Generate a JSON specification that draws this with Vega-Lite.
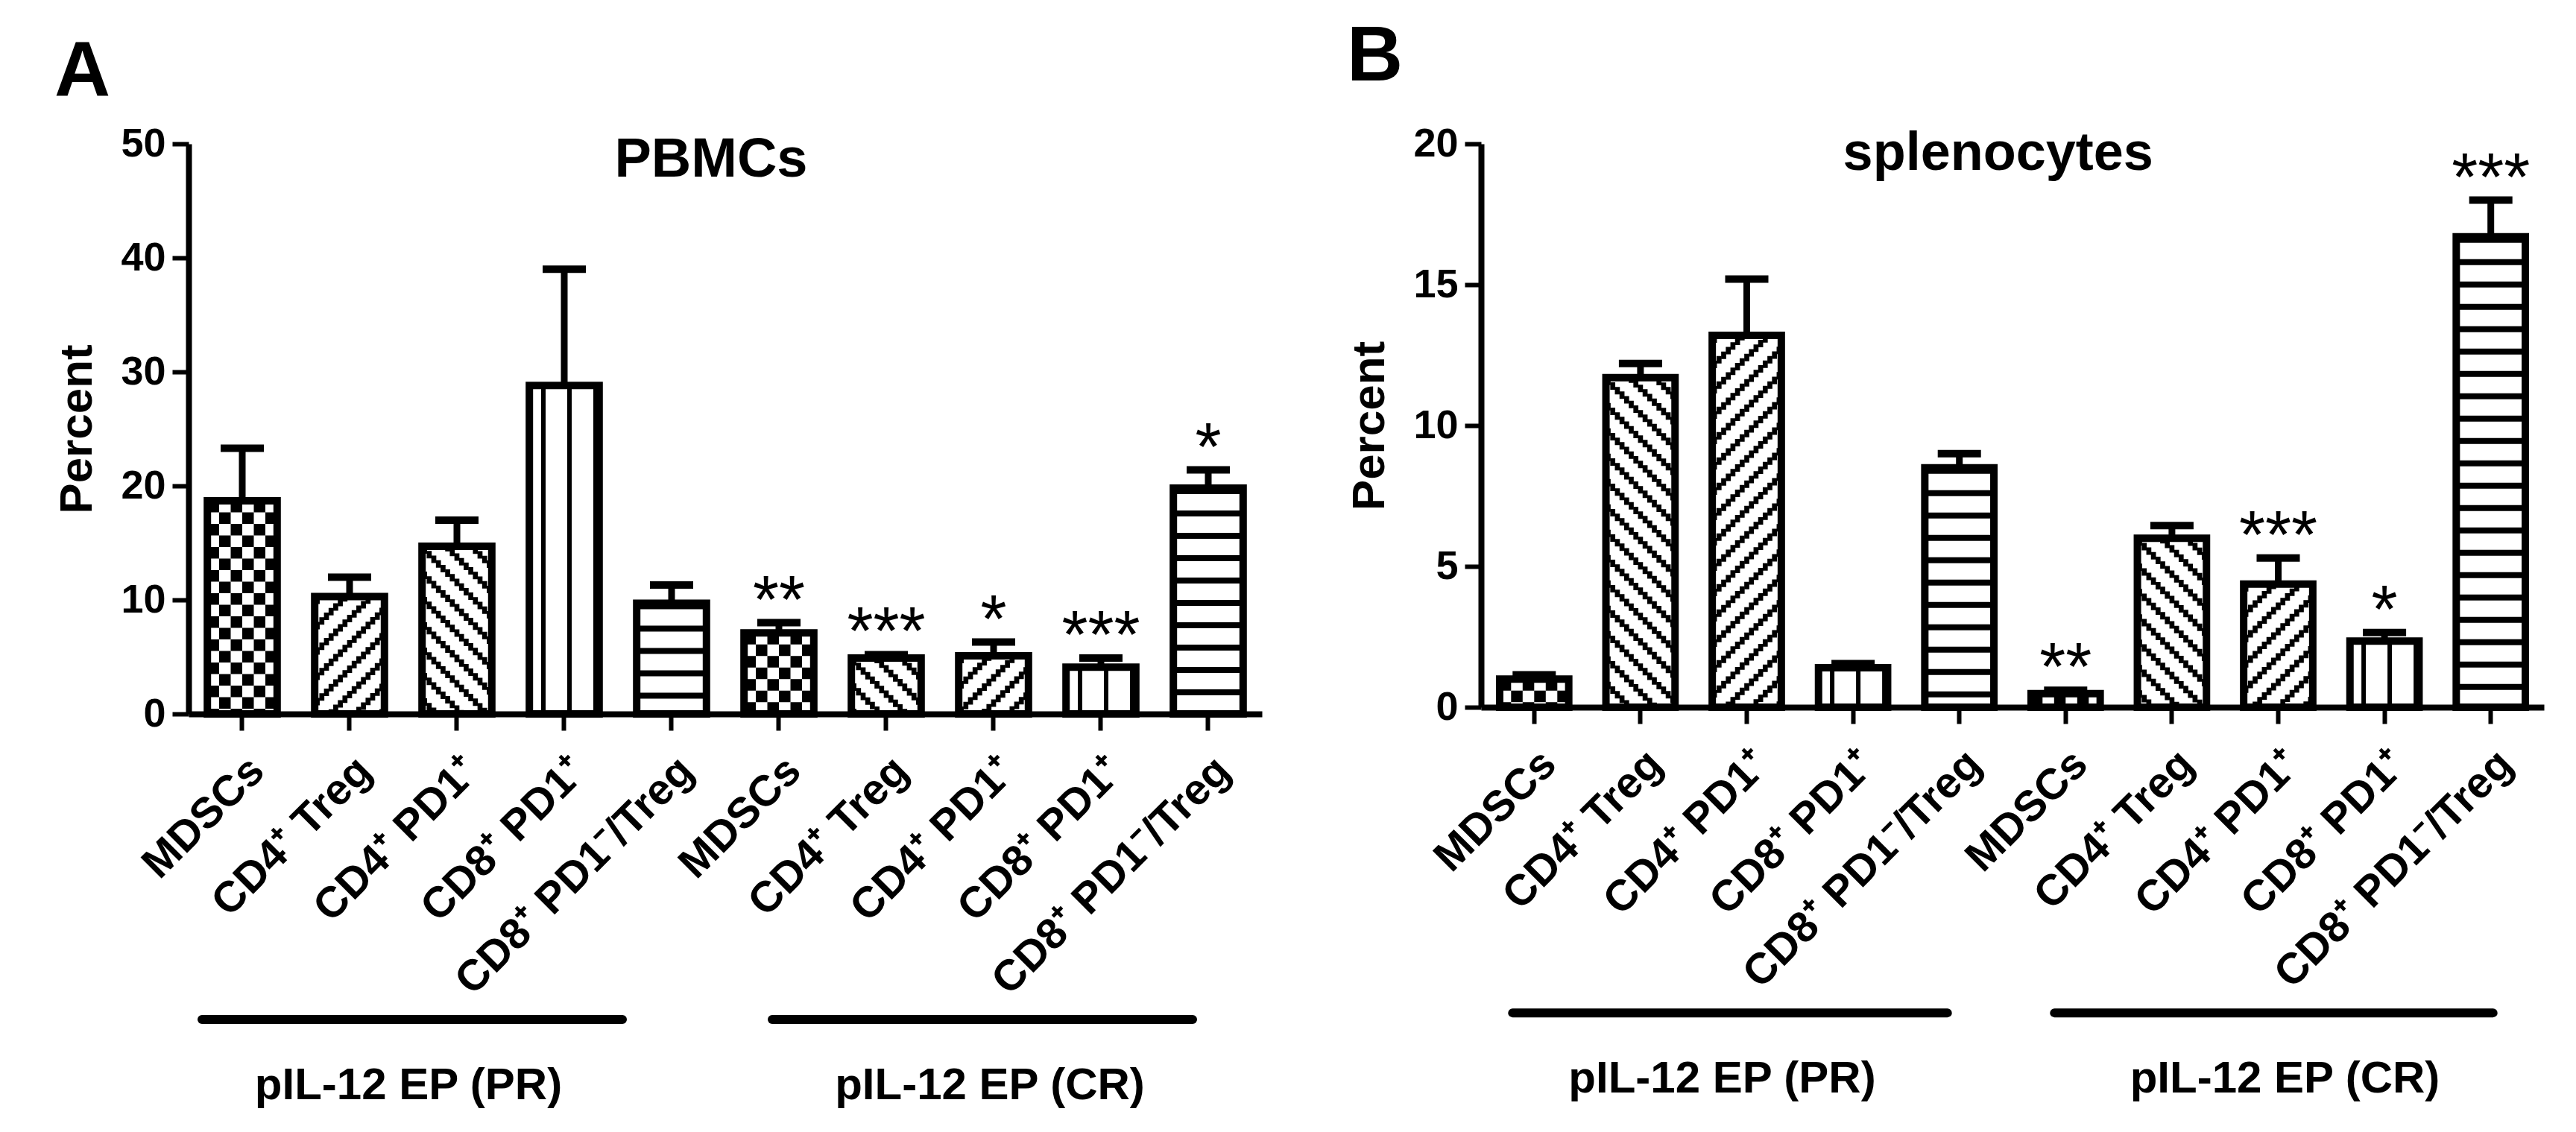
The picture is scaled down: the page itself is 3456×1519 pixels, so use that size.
{
  "$schema": "https://vega.github.io/schema/vega-lite/v6.json",
  "background": "white",
  "padding": {"left": 72, "top": 25, "right": 20, "bottom": 10},
  "datasets": {
    "pbmc": [
      {"bar": "PR|MDSCs", "percent": 18.7, "upper": 23.3, "sig": ""},
      {"bar": "PR|CD4⁺ Treg", "percent": 10.3, "upper": 12.0, "sig": ""},
      {"bar": "PR|CD4⁺ PD1⁺", "percent": 14.7, "upper": 17.0, "sig": ""},
      {"bar": "PR|CD8⁺ PD1⁺", "percent": 28.8, "upper": 39.0, "sig": ""},
      {"bar": "PR|CD8⁺ PD1⁻/Treg", "percent": 9.7, "upper": 11.3, "sig": ""},
      {"bar": "CR|MDSCs", "percent": 7.1, "upper": 8.0, "sig": "**"},
      {"bar": "CR|CD4⁺ Treg", "percent": 4.9, "upper": 5.2, "sig": "***"},
      {"bar": "CR|CD4⁺ PD1⁺", "percent": 5.1, "upper": 6.3, "sig": "*"},
      {"bar": "CR|CD8⁺ PD1⁺", "percent": 4.1, "upper": 4.9, "sig": "***"},
      {"bar": "CR|CD8⁺ PD1⁻/Treg", "percent": 19.8, "upper": 21.4, "sig": "*"}
    ],
    "spleno": [
      {"bar": "PR|MDSCs", "percent": 1.0, "upper": 1.15, "sig": ""},
      {"bar": "PR|CD4⁺ Treg", "percent": 11.7, "upper": 12.2, "sig": ""},
      {"bar": "PR|CD4⁺ PD1⁺", "percent": 13.2, "upper": 15.2, "sig": ""},
      {"bar": "PR|CD8⁺ PD1⁺", "percent": 1.4, "upper": 1.55, "sig": ""},
      {"bar": "PR|CD8⁺ PD1⁻/Treg", "percent": 8.5, "upper": 9.0, "sig": ""},
      {"bar": "CR|MDSCs", "percent": 0.48, "upper": 0.6, "sig": "**"},
      {"bar": "CR|CD4⁺ Treg", "percent": 6.0, "upper": 6.45, "sig": ""},
      {"bar": "CR|CD4⁺ PD1⁺", "percent": 4.37, "upper": 5.3, "sig": "***"},
      {"bar": "CR|CD8⁺ PD1⁺", "percent": 2.35, "upper": 2.65, "sig": "*"},
      {"bar": "CR|CD8⁺ PD1⁻/Treg", "percent": 16.7, "upper": 18.0, "sig": "***"}
    ],
    "groups": [
      {"group": "pIL-12 EP (PR)"},
      {"group": "pIL-12 EP (CR)"}
    ]
  },
  "spacing": 113,
  "hconcat": [
    {
      "title": {"text": "A", "offset": 16},
      "width": 1440,
      "height": 765,
      "data": {"name": "pbmc"},
      "encoding": {
        "x": {
          "field": "bar",
          "type": "nominal",
          "scale": {
            "domain": ["PR|MDSCs", "PR|CD4⁺ Treg", "PR|CD4⁺ PD1⁺", "PR|CD8⁺ PD1⁺", "PR|CD8⁺ PD1⁻/Treg", "CR|MDSCs", "CR|CD4⁺ Treg", "CR|CD4⁺ PD1⁺", "CR|CD8⁺ PD1⁺", "CR|CD8⁺ PD1⁻/Treg"],
            "paddingInner": 0.35,
            "paddingOuter": 0.175
          },
          "axis": {"title": null, "labelExpr": "split(datum.label, '|')[1]"}
        }
      },
      "layer": [
        {
          "mark": {"type": "bar", "fill": "white"},
          "encoding": {
            "y": {
              "field": "percent",
              "type": "quantitative",
              "title": "Percent",
              "scale": {"domain": [0, 50]},
              "axis": {"values": [0, 10, 20, 30, 40, 50]}
            }
          }
        },
        {
          "transform": [{"filter": "indexof(datum.bar, 'MDSCs') >= 0"}],
          "encoding": {"y": {"field": "percent", "type": "quantitative", "title": "Percent"}, "y2": {"datum": 0}},
          "layer": [
            {"mark": {"type": "rule", "style": "check", "xOffset": -38.75, "strokeDashOffset": 0}},
            {"mark": {"type": "rule", "style": "check", "xOffset": -23.25, "strokeDashOffset": 15.5}},
            {"mark": {"type": "rule", "style": "check", "xOffset": -7.75, "strokeDashOffset": 0}},
            {"mark": {"type": "rule", "style": "check", "xOffset": 7.75, "strokeDashOffset": 15.5}},
            {"mark": {"type": "rule", "style": "check", "xOffset": 23.25, "strokeDashOffset": 0}},
            {"mark": {"type": "rule", "style": "check", "xOffset": 38.75, "strokeDashOffset": 15.5}}
          ]
        },
        {
          "transform": [{"filter": "indexof(datum.bar, 'CD8⁺ PD1⁺') >= 0"}],
          "encoding": {"y": {"field": "percent", "type": "quantitative", "title": "Percent"}, "y2": {"datum": 0}},
          "layer": [
            {"mark": {"type": "rule", "style": "vline", "xOffset": -28}},
            {"mark": {"type": "rule", "style": "vline", "xOffset": 7}},
            {"mark": {"type": "rule", "style": "vline", "xOffset": 42}}
          ]
        },
        {
          "transform": [{"filter": "indexof(datum.bar, '/Treg') >= 0"}],
          "mark": {"type": "rule", "style": "hline"},
          "encoding": {"y": {"field": "percent", "type": "quantitative", "title": "Percent"}, "y2": {"datum": 0}}
        },
        {
          "transform": [{"filter": "datum.bar == 'PR|CD4⁺ Treg' || datum.bar == 'CR|CD4⁺ PD1⁺'"}],
          "encoding": {"y": {"field": "percent", "type": "quantitative", "title": "Percent"}, "y2": {"datum": 0}},
          "layer": [
            {"mark": {"type": "rule", "style": "diag", "xOffset": -43.4, "strokeDashOffset": 0}},
            {"mark": {"type": "rule", "style": "diag", "xOffset": -37.2, "strokeDashOffset": 6.2}},
            {"mark": {"type": "rule", "style": "diag", "xOffset": -31, "strokeDashOffset": 12.4}},
            {"mark": {"type": "rule", "style": "diag", "xOffset": -24.8, "strokeDashOffset": 18.6}},
            {"mark": {"type": "rule", "style": "diag", "xOffset": -18.6, "strokeDashOffset": 24.8}},
            {"mark": {"type": "rule", "style": "diag", "xOffset": -12.4, "strokeDashOffset": 31}},
            {"mark": {"type": "rule", "style": "diag", "xOffset": -6.2, "strokeDashOffset": 37.2}},
            {"mark": {"type": "rule", "style": "diag", "xOffset": 0, "strokeDashOffset": 43.4}},
            {"mark": {"type": "rule", "style": "diag", "xOffset": 6.2, "strokeDashOffset": 49.6}},
            {"mark": {"type": "rule", "style": "diag", "xOffset": 12.4, "strokeDashOffset": 55.8}},
            {"mark": {"type": "rule", "style": "diag", "xOffset": 18.6, "strokeDashOffset": 62}},
            {"mark": {"type": "rule", "style": "diag", "xOffset": 24.8, "strokeDashOffset": 68.2}},
            {"mark": {"type": "rule", "style": "diag", "xOffset": 31, "strokeDashOffset": 74.4}},
            {"mark": {"type": "rule", "style": "diag", "xOffset": 37.2, "strokeDashOffset": 80.6}},
            {"mark": {"type": "rule", "style": "diag", "xOffset": 43.4, "strokeDashOffset": 86.8}}
          ]
        },
        {
          "transform": [{"filter": "datum.bar == 'PR|CD4⁺ PD1⁺' || datum.bar == 'CR|CD4⁺ Treg'"}],
          "encoding": {"y": {"field": "percent", "type": "quantitative", "title": "Percent"}, "y2": {"datum": 0}},
          "layer": [
            {"mark": {"type": "rule", "style": "diag", "xOffset": -43.4, "strokeDashOffset": 0}},
            {"mark": {"type": "rule", "style": "diag", "xOffset": -37.2, "strokeDashOffset": -6.2}},
            {"mark": {"type": "rule", "style": "diag", "xOffset": -31, "strokeDashOffset": -12.4}},
            {"mark": {"type": "rule", "style": "diag", "xOffset": -24.8, "strokeDashOffset": -18.6}},
            {"mark": {"type": "rule", "style": "diag", "xOffset": -18.6, "strokeDashOffset": -24.8}},
            {"mark": {"type": "rule", "style": "diag", "xOffset": -12.4, "strokeDashOffset": -31}},
            {"mark": {"type": "rule", "style": "diag", "xOffset": -6.2, "strokeDashOffset": -37.2}},
            {"mark": {"type": "rule", "style": "diag", "xOffset": 0, "strokeDashOffset": -43.4}},
            {"mark": {"type": "rule", "style": "diag", "xOffset": 6.2, "strokeDashOffset": -49.6}},
            {"mark": {"type": "rule", "style": "diag", "xOffset": 12.4, "strokeDashOffset": -55.8}},
            {"mark": {"type": "rule", "style": "diag", "xOffset": 18.6, "strokeDashOffset": -62}},
            {"mark": {"type": "rule", "style": "diag", "xOffset": 24.8, "strokeDashOffset": -68.2}},
            {"mark": {"type": "rule", "style": "diag", "xOffset": 31, "strokeDashOffset": -74.4}},
            {"mark": {"type": "rule", "style": "diag", "xOffset": 37.2, "strokeDashOffset": -80.6}},
            {"mark": {"type": "rule", "style": "diag", "xOffset": 43.4, "strokeDashOffset": -86.8}}
          ]
        },
        {
          "mark": {"type": "bar", "filled": false, "color": "black", "strokeWidth": 10},
          "encoding": {"y": {"field": "percent", "type": "quantitative", "title": "Percent"}}
        },
        {
          "mark": {"type": "rule", "color": "black", "strokeWidth": 9},
          "encoding": {"y": {"field": "upper", "type": "quantitative", "title": "Percent"}, "y2": {"field": "percent"}}
        },
        {
          "mark": {"type": "tick", "orient": "horizontal", "color": "black", "thickness": 10, "size": 58, "opacity": 1},
          "encoding": {"y": {"field": "upper", "type": "quantitative", "title": "Percent"}}
        },
        {
          "mark": {"type": "text", "fontSize": 90, "baseline": "alphabetic"},
          "encoding": {"y": {"field": "upper", "type": "quantitative", "title": "Percent"}, "text": {"field": "sig"}}
        },
        {
          "data": {"values": [{"title": "PBMCs"}]},
          "mark": {"type": "text", "fontSize": 74, "fontWeight": "bold", "baseline": "alphabetic", "dx": 53},
          "encoding": {"x": {"datum": "PR|CD8⁺ PD1⁻/Treg"}, "y": {"datum": 47.1, "title": "Percent"}, "text": {"field": "title"}}
        },
        {
          "data": {"name": "groups"},
          "transform": [{"filter": "datum.group == 'pIL-12 EP (PR)'"}],
          "mark": {"type": "rule", "style": "group", "xOffset": -54, "x2Offset": -66},
          "encoding": {"x": {"datum": "PR|MDSCs"}, "x2": {"datum": "PR|CD8⁺ PD1⁻/Treg"}, "y": {"datum": -26.8, "title": "Percent"}}
        },
        {
          "data": {"name": "groups"},
          "transform": [{"filter": "datum.group == 'pIL-12 EP (CR)'"}],
          "mark": {"type": "rule", "style": "group", "xOffset": -9, "x2Offset": -21},
          "encoding": {"x": {"datum": "CR|MDSCs"}, "x2": {"datum": "CR|CD8⁺ PD1⁻/Treg"}, "y": {"datum": -26.8, "title": "Percent"}}
        },
        {
          "data": {"name": "groups"},
          "transform": [{"filter": "datum.group == 'pIL-12 EP (PR)'"}],
          "mark": {"type": "text", "style": "grouplabel", "dx": -65},
          "encoding": {"x": {"datum": "PR|CD4⁺ PD1⁺"}, "y": {"datum": -33.8, "title": "Percent"}, "text": {"field": "group"}}
        },
        {
          "data": {"name": "groups"},
          "transform": [{"filter": "datum.group == 'pIL-12 EP (CR)'"}],
          "mark": {"type": "text", "style": "grouplabel", "dx": -5},
          "encoding": {"x": {"datum": "CR|CD4⁺ PD1⁺"}, "y": {"datum": -33.8, "title": "Percent"}, "text": {"field": "group"}}
        }
      ]
    },
    {
      "title": {"text": "B", "offset": 36},
      "width": 1426,
      "height": 756,
      "data": {"name": "spleno"},
      "encoding": {
        "x": {
          "field": "bar",
          "type": "nominal",
          "scale": {
            "domain": ["PR|MDSCs", "PR|CD4⁺ Treg", "PR|CD4⁺ PD1⁺", "PR|CD8⁺ PD1⁺", "PR|CD8⁺ PD1⁻/Treg", "CR|MDSCs", "CR|CD4⁺ Treg", "CR|CD4⁺ PD1⁺", "CR|CD8⁺ PD1⁺", "CR|CD8⁺ PD1⁻/Treg"],
            "paddingInner": 0.35,
            "paddingOuter": 0.175
          },
          "axis": {"title": null, "labelExpr": "split(datum.label, '|')[1]"}
        }
      },
      "layer": [
        {
          "mark": {"type": "bar", "fill": "white"},
          "encoding": {
            "y": {
              "field": "percent",
              "type": "quantitative",
              "title": "Percent",
              "scale": {"domain": [0, 20]},
              "axis": {"values": [0, 5, 10, 15, 20]}
            }
          }
        },
        {
          "transform": [{"filter": "indexof(datum.bar, 'MDSCs') >= 0"}],
          "encoding": {"y": {"field": "percent", "type": "quantitative", "title": "Percent"}, "y2": {"datum": 0}},
          "layer": [
            {"mark": {"type": "rule", "style": "check", "xOffset": -38.75, "strokeDashOffset": 0}},
            {"mark": {"type": "rule", "style": "check", "xOffset": -23.25, "strokeDashOffset": 15.5}},
            {"mark": {"type": "rule", "style": "check", "xOffset": -7.75, "strokeDashOffset": 0}},
            {"mark": {"type": "rule", "style": "check", "xOffset": 7.75, "strokeDashOffset": 15.5}},
            {"mark": {"type": "rule", "style": "check", "xOffset": 23.25, "strokeDashOffset": 0}},
            {"mark": {"type": "rule", "style": "check", "xOffset": 38.75, "strokeDashOffset": 15.5}}
          ]
        },
        {
          "transform": [{"filter": "indexof(datum.bar, 'CD8⁺ PD1⁺') >= 0"}],
          "encoding": {"y": {"field": "percent", "type": "quantitative", "title": "Percent"}, "y2": {"datum": 0}},
          "layer": [
            {"mark": {"type": "rule", "style": "vline", "xOffset": -28}},
            {"mark": {"type": "rule", "style": "vline", "xOffset": 7}},
            {"mark": {"type": "rule", "style": "vline", "xOffset": 42}}
          ]
        },
        {
          "transform": [{"filter": "indexof(datum.bar, '/Treg') >= 0"}],
          "mark": {"type": "rule", "style": "hline"},
          "encoding": {"y": {"field": "percent", "type": "quantitative", "title": "Percent"}, "y2": {"datum": 0}}
        },
        {
          "transform": [{"filter": "indexof(datum.bar, 'CD4⁺ PD1⁺') >= 0"}],
          "encoding": {"y": {"field": "percent", "type": "quantitative", "title": "Percent"}, "y2": {"datum": 0}},
          "layer": [
            {"mark": {"type": "rule", "style": "diag", "xOffset": -43.4, "strokeDashOffset": 0}},
            {"mark": {"type": "rule", "style": "diag", "xOffset": -37.2, "strokeDashOffset": 6.2}},
            {"mark": {"type": "rule", "style": "diag", "xOffset": -31, "strokeDashOffset": 12.4}},
            {"mark": {"type": "rule", "style": "diag", "xOffset": -24.8, "strokeDashOffset": 18.6}},
            {"mark": {"type": "rule", "style": "diag", "xOffset": -18.6, "strokeDashOffset": 24.8}},
            {"mark": {"type": "rule", "style": "diag", "xOffset": -12.4, "strokeDashOffset": 31}},
            {"mark": {"type": "rule", "style": "diag", "xOffset": -6.2, "strokeDashOffset": 37.2}},
            {"mark": {"type": "rule", "style": "diag", "xOffset": 0, "strokeDashOffset": 43.4}},
            {"mark": {"type": "rule", "style": "diag", "xOffset": 6.2, "strokeDashOffset": 49.6}},
            {"mark": {"type": "rule", "style": "diag", "xOffset": 12.4, "strokeDashOffset": 55.8}},
            {"mark": {"type": "rule", "style": "diag", "xOffset": 18.6, "strokeDashOffset": 62}},
            {"mark": {"type": "rule", "style": "diag", "xOffset": 24.8, "strokeDashOffset": 68.2}},
            {"mark": {"type": "rule", "style": "diag", "xOffset": 31, "strokeDashOffset": 74.4}},
            {"mark": {"type": "rule", "style": "diag", "xOffset": 37.2, "strokeDashOffset": 80.6}},
            {"mark": {"type": "rule", "style": "diag", "xOffset": 43.4, "strokeDashOffset": 86.8}}
          ]
        },
        {
          "transform": [{"filter": "indexof(datum.bar, 'CD4⁺ Treg') >= 0"}],
          "encoding": {"y": {"field": "percent", "type": "quantitative", "title": "Percent"}, "y2": {"datum": 0}},
          "layer": [
            {"mark": {"type": "rule", "style": "diag", "xOffset": -43.4, "strokeDashOffset": 0}},
            {"mark": {"type": "rule", "style": "diag", "xOffset": -37.2, "strokeDashOffset": -6.2}},
            {"mark": {"type": "rule", "style": "diag", "xOffset": -31, "strokeDashOffset": -12.4}},
            {"mark": {"type": "rule", "style": "diag", "xOffset": -24.8, "strokeDashOffset": -18.6}},
            {"mark": {"type": "rule", "style": "diag", "xOffset": -18.6, "strokeDashOffset": -24.8}},
            {"mark": {"type": "rule", "style": "diag", "xOffset": -12.4, "strokeDashOffset": -31}},
            {"mark": {"type": "rule", "style": "diag", "xOffset": -6.2, "strokeDashOffset": -37.2}},
            {"mark": {"type": "rule", "style": "diag", "xOffset": 0, "strokeDashOffset": -43.4}},
            {"mark": {"type": "rule", "style": "diag", "xOffset": 6.2, "strokeDashOffset": -49.6}},
            {"mark": {"type": "rule", "style": "diag", "xOffset": 12.4, "strokeDashOffset": -55.8}},
            {"mark": {"type": "rule", "style": "diag", "xOffset": 18.6, "strokeDashOffset": -62}},
            {"mark": {"type": "rule", "style": "diag", "xOffset": 24.8, "strokeDashOffset": -68.2}},
            {"mark": {"type": "rule", "style": "diag", "xOffset": 31, "strokeDashOffset": -74.4}},
            {"mark": {"type": "rule", "style": "diag", "xOffset": 37.2, "strokeDashOffset": -80.6}},
            {"mark": {"type": "rule", "style": "diag", "xOffset": 43.4, "strokeDashOffset": -86.8}}
          ]
        },
        {
          "mark": {"type": "bar", "filled": false, "color": "black", "strokeWidth": 10},
          "encoding": {"y": {"field": "percent", "type": "quantitative", "title": "Percent"}}
        },
        {
          "mark": {"type": "rule", "color": "black", "strokeWidth": 9},
          "encoding": {"y": {"field": "upper", "type": "quantitative", "title": "Percent"}, "y2": {"field": "percent"}}
        },
        {
          "mark": {"type": "tick", "orient": "horizontal", "color": "black", "thickness": 10, "size": 58, "opacity": 1},
          "encoding": {"y": {"field": "upper", "type": "quantitative", "title": "Percent"}}
        },
        {
          "mark": {"type": "text", "fontSize": 90, "baseline": "alphabetic"},
          "encoding": {"y": {"field": "upper", "type": "quantitative", "title": "Percent"}, "text": {"field": "sig"}}
        },
        {
          "data": {"values": [{"title": "splenocytes"}]},
          "mark": {"type": "text", "fontSize": 72, "fontWeight": "bold", "baseline": "alphabetic", "dx": 52},
          "encoding": {"x": {"datum": "PR|CD8⁺ PD1⁻/Treg"}, "y": {"datum": 19.07, "title": "Percent"}, "text": {"field": "title"}}
        },
        {
          "data": {"name": "groups"},
          "transform": [{"filter": "datum.group == 'pIL-12 EP (PR)'"}],
          "mark": {"type": "rule", "style": "group", "xOffset": -29, "x2Offset": -16},
          "encoding": {"x": {"datum": "PR|MDSCs"}, "x2": {"datum": "PR|CD8⁺ PD1⁻/Treg"}, "y": {"datum": -10.85, "title": "Percent"}}
        },
        {
          "data": {"name": "groups"},
          "transform": [{"filter": "datum.group == 'pIL-12 EP (CR)'"}],
          "mark": {"type": "rule", "style": "group", "xOffset": -15, "x2Offset": 3},
          "encoding": {"x": {"datum": "CR|MDSCs"}, "x2": {"datum": "CR|CD8⁺ PD1⁻/Treg"}, "y": {"datum": -10.85, "title": "Percent"}}
        },
        {
          "data": {"name": "groups"},
          "transform": [{"filter": "datum.group == 'pIL-12 EP (PR)'"}],
          "mark": {"type": "text", "style": "grouplabel", "dx": -33},
          "encoding": {"x": {"datum": "PR|CD4⁺ PD1⁺"}, "y": {"datum": -13.68, "title": "Percent"}, "text": {"field": "group"}}
        },
        {
          "data": {"name": "groups"},
          "transform": [{"filter": "datum.group == 'pIL-12 EP (CR)'"}],
          "mark": {"type": "text", "style": "grouplabel", "dx": 9},
          "encoding": {"x": {"datum": "CR|CD4⁺ PD1⁺"}, "y": {"datum": -13.68, "title": "Percent"}, "text": {"field": "group"}}
        }
      ]
    }
  ],
  "config": {
    "view": {"stroke": null},
    "font": "Liberation Sans",
    "mark": {"color": "black"},
    "rule": {"color": "black", "strokeCap": "butt"},
    "text": {"color": "black", "font": "Liberation Sans"},
    "title": {"font": "Liberation Sans", "fontSize": 104, "fontWeight": "bold", "color": "black", "anchor": "start", "frame": "bounds", "baseline": "alphabetic"},
    "style": {
      "check": {"strokeWidth": 15.5, "strokeDash": [15.5, 15.5], "strokeCap": "butt"},
      "vline": {"strokeWidth": 6, "strokeCap": "butt"},
      "hline": {"strokeWidth": 93, "strokeDash": [8, 22], "strokeCap": "butt"},
      "diag": {"strokeWidth": 6.7, "strokeDash": [10, 24], "strokeCap": "butt"},
      "group": {"strokeWidth": 12, "strokeCap": "round", "clip": false},
      "grouplabel": {"fontSize": 60, "fontWeight": "bold", "baseline": "alphabetic", "font": "Liberation Sans"}
    },
    "axis": {
      "grid": false,
      "domainColor": "black",
      "domainWidth": 8,
      "tickColor": "black",
      "tickWidth": 6,
      "tickSize": 22,
      "labelColor": "black",
      "labelFont": "Liberation Sans",
      "labelFontWeight": "bold",
      "titleColor": "black",
      "titleFont": "Liberation Sans",
      "titleFontWeight": "bold"
    },
    "axisX": {"labelAngle": -45, "labelFontSize": 58, "labelPadding": 25, "labelLimit": 0, "labelOverlap": false},
    "axisY": {"labelFontSize": 54, "labelPadding": 9, "titleFontSize": 62, "titlePadding": 26}
  }
}
